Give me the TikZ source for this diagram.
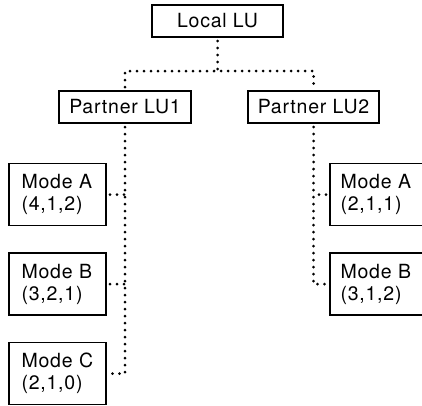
\documentclass[tikz,border=0pt]{standalone}
\usepackage{fontspec}
\setmainfont{TeX Gyre Heros}[LetterSpace=4]
\usetikzlibrary{positioning}
\tikzset{
  lubox/.style={
    draw,
    rectangle,
    line width=1.4pt,
    outer sep=4pt,
    minimum height=32pt,
    align=center,
    font=\fontsize{19.5}{22}\selectfont,
  },
  modebox/.style={
    lubox,
    minimum height=62pt,
    text width=72pt,
    align=left,
  },
  link/.style={
    line width=3pt,
    line cap=round,
    dash pattern=on 0pt off 7pt
  }
}
\begin{document}
\begin{tikzpicture}[x=1pt,y=-1pt]
\useasboundingbox (0,0) rectangle (422,405);

% LUs
\node[lubox, minimum width=131pt] (local) at (217.5,21) {Local LU};
\node[lubox, minimum width=132pt] (p1) at (125,107) {Partner LU1};
\node[lubox, minimum width=131pt] (p2) at (313.5,107) {Partner LU2};
\coordinate (bus) at (217.5,71);
\draw[link] (local.south) -- (bus);
\draw[link] (p1.north) |- (bus) -| (p2.north);

% modes of partner LU1
\node[modebox, inner xsep=12.5pt] (ma) at (57.5,194.5) {Mode A\\(4,1,2)};
\node[modebox, inner xsep=12.5pt] (mb) at (57.5,284) {Mode B\\(3,2,1)};
\node[modebox, inner xsep=12.5pt] (mc) at (57.5,373.5) {Mode C\\(2,1,0)};
\draw[link] (p1.south) |- (mc.east);
\draw[link] (ma.east) -- (ma.east -| p1.south);
\draw[link] (mb.east) -- (mb.east -| p1.south);

% modes of partner LU2
\node[modebox, inner xsep=10.5pt] (ra) at (376.5,194.5) {Mode A\\(2,1,1)};
\node[modebox, inner xsep=10.5pt] (rb) at (376.5,284) {Mode B\\(3,1,2)};
\draw[link] (p2.south) |- (rb.west);
\draw[link] (ra.west) -- (ra.west -| p2.south);

\end{tikzpicture}
\end{document}
